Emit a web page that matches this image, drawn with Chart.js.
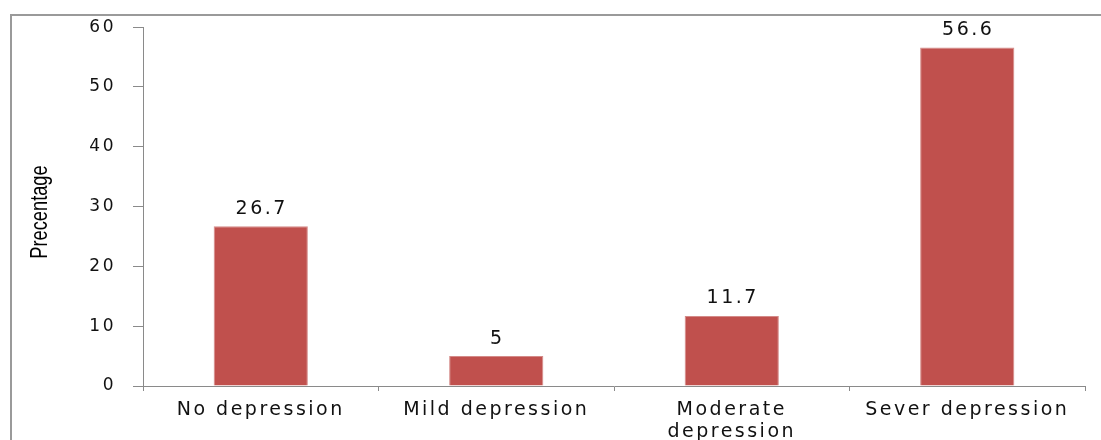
<!DOCTYPE html>
<html>
<head>
<meta charset="utf-8">
<script src="https://cdn.jsdelivr.net/npm/chart.js@4"></script>
<style>
  html, body { margin: 0; padding: 0; background: #fff; overflow: hidden; }
  #wrap { position: relative; width: 1101px; height: 440px; }
  #frame { position: absolute; left: 10px; top: 14px; width: 1200px; height: 500px;
           border-top: 2px solid #9a9a9a; border-left: 2px solid #9a9a9a; }
  canvas { position: absolute; left: 0; top: 0; }
</style>
</head>
<body>
<div id="wrap">
  <div id="frame"></div>
  <canvas id="myChart" width="1101" height="440"></canvas>
</div>
<script>
const categories = [
  'No depression',
  'Mild depression',
  ['Moderate', 'depression'],
  'Sever depression'
];
const percentValues = [26.7, 5, 11.7, 56.6];
const yTicks = [0, 10, 20, 30, 40, 50, 60];
const yTitle = 'Precentage';

// the reference text is stretched wide, so space the letters out a bit
const wideText = {
  id: 'wideText',
  beforeUpdate(chart) { chart.ctx.letterSpacing = '2.5px'; },
  beforeLayout(chart) { chart.ctx.letterSpacing = '2.5px'; },
  beforeDraw(chart) { chart.ctx.letterSpacing = '2.5px'; }
};

const barLabels = {
  id: 'barLabels',
  afterDatasetsDraw(chart) {
    const ctx = chart.ctx;
    const meta = chart.getDatasetMeta(0);
    ctx.save();
    ctx.font = '19px "DejaVu Sans", Verdana, sans-serif';
    ctx.letterSpacing = '2.5px';
    ctx.fillStyle = '#111';
    ctx.textAlign = 'center';
    ctx.textBaseline = 'bottom';
    meta.data.forEach((bar, i) => {
      ctx.fillText(String(percentValues[i]), bar.x + 1, bar.y - 8);
    });
    ctx.restore();
  }
};

// narrow, tall axis title like the original
const axisTitle = {
  id: 'axisTitle',
  afterDraw(chart) {
    const ctx = chart.ctx;
    ctx.save();
    ctx.letterSpacing = '0px';
    ctx.font = '24px "Liberation Sans Narrow", "Arial Narrow", "Liberation Sans", sans-serif';
    ctx.fillStyle = '#000';
    ctx.textAlign = 'center';
    ctx.textBaseline = 'middle';
    ctx.translate(40, 212);
    ctx.rotate(-Math.PI / 2);
    ctx.scale(0.76, 1);
    ctx.fillText(yTitle, 0, 0);
    ctx.restore();
  }
};

const config = {
  type: 'bar',
  data: {
    labels: categories,
    datasets: [{
      label: yTitle,
      data: percentValues,
      backgroundColor: '#c0504d',
      borderColor: '#d48a88',
      borderWidth: 1,
      barPercentage: 0.4,
      categoryPercentage: 1
    }]
  },
  options: {
    responsive: false,
    animation: false,
    layout: { padding: { left: 0, right: 16, top: 26, bottom: 0 } },
    plugins: { legend: { display: false }, tooltip: { enabled: false } },
    scales: {
      y: {
        min: 0,
        max: 60,
        afterFit(scale) { scale.width = 143; },
        afterBuildTicks(scale) { scale.ticks = yTicks.map(v => ({ value: v })); },
        ticks: {
          color: '#111',
          padding: 17,
          font: { family: '"DejaVu Sans", Verdana, sans-serif', size: 17 }
        },
        grid: { drawOnChartArea: false, drawTicks: true, tickLength: 10, color: '#8a8a8a', lineWidth: 1 },
        border: { color: '#8a8a8a', width: 1 }
      },
      x: {
        afterFit(scale) { scale.height = 54; },
        ticks: {
          color: '#111',
          padding: 8,
          maxRotation: 0,
          autoSkip: false,
          font: { family: '"DejaVu Sans", Verdana, sans-serif', size: 19, lineHeight: 1.15 }
        },
        grid: { offset: true, drawOnChartArea: false, drawTicks: true, tickLength: 5, color: '#8a8a8a' },
        border: { color: '#8a8a8a', width: 1 }
      }
    }
  },
  plugins: [wideText, barLabels, axisTitle]
};

const chart = new Chart(document.getElementById('myChart'), config);
</script>
</body>
</html>
